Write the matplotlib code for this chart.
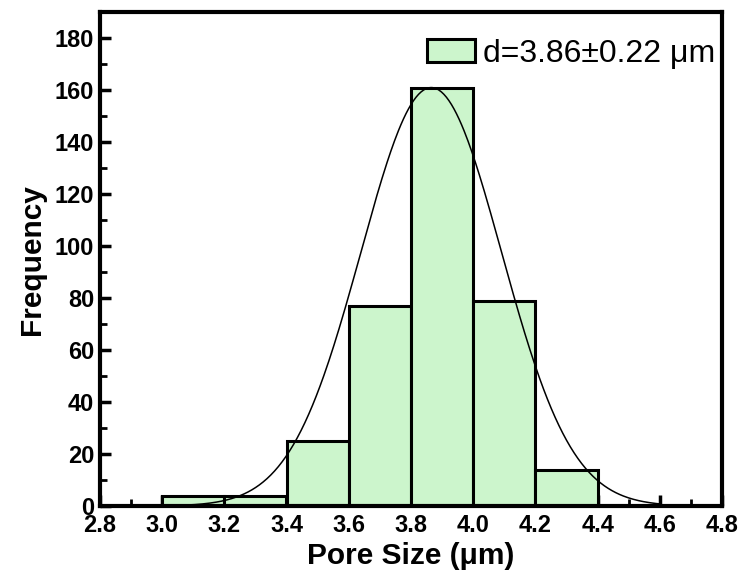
import numpy as np
import matplotlib.pyplot as plt

plt.rcParams['font.family'] = ['Liberation Sans', 'DejaVu Sans']

# histogram data
bin_edges = [2.8, 3.0, 3.2, 3.4, 3.6, 3.8, 4.0, 4.2, 4.4, 4.6]
counts = [0, 4, 4, 25, 77, 161, 79, 14, 0]

# gaussian fit (drawn)
fit_mean = 3.865
fit_sigma = 0.226
fit_peak = 161
legend_label = "d=3.86\u00b10.22 \u03bcm"

fig = plt.figure(figsize=(7.5, 5.81), dpi=100)
ax = fig.add_axes([0.133, 0.129, 0.83, 0.85])

lefts = np.array(bin_edges[:-1])
widths = np.diff(bin_edges)
ax.bar(lefts, counts, width=widths, align='edge', color='#ccf5cc',
       edgecolor='black', linewidth=2.2, label=legend_label, zorder=2)

xs = np.linspace(2.98, 4.6, 400)
ys = fit_peak * np.exp(-0.5 * ((xs - fit_mean) / fit_sigma) ** 2)
ax.plot(xs, ys, color='black', linewidth=1.1, zorder=3)

ax.set_xlim(2.8, 4.8)
ax.set_ylim(0, 190)
ax.set_xticks(np.arange(2.8, 4.81, 0.2))
ax.set_xticks(np.arange(2.9, 4.8, 0.2), minor=True)
ax.set_yticks(np.arange(0, 181, 20))
ax.set_yticks(np.arange(10, 190, 20), minor=True)
ax.set_xticklabels([f"{v:.1f}" for v in np.arange(2.8, 4.81, 0.2)])

ax.tick_params(which='major', direction='in', length=8, width=2.5,
               labelsize=17, pad=4)
ax.tick_params(axis='x', which='major', pad=6)
ax.tick_params(which='minor', direction='in', length=5, width=2)
for lab in ax.get_xticklabels() + ax.get_yticklabels():
    lab.set_fontweight('bold')
for s in ax.spines.values():
    s.set_linewidth(3)

ax.set_xlabel("Pore Size (\u03bcm)", fontsize=21.5, fontweight='bold', labelpad=3)
ax.set_ylabel("Frequency", fontsize=21.5, fontweight='bold', labelpad=6)

leg = ax.legend(loc='upper right', bbox_to_anchor=(1.027, 0.995), fontsize=23,
                frameon=False, handlelength=1.5, handleheight=0.75,
                handletextpad=0.25, borderaxespad=0.35)
for p in leg.get_patches():
    p.set_linewidth(2.2)

fig.savefig("out.png", dpi=100)
